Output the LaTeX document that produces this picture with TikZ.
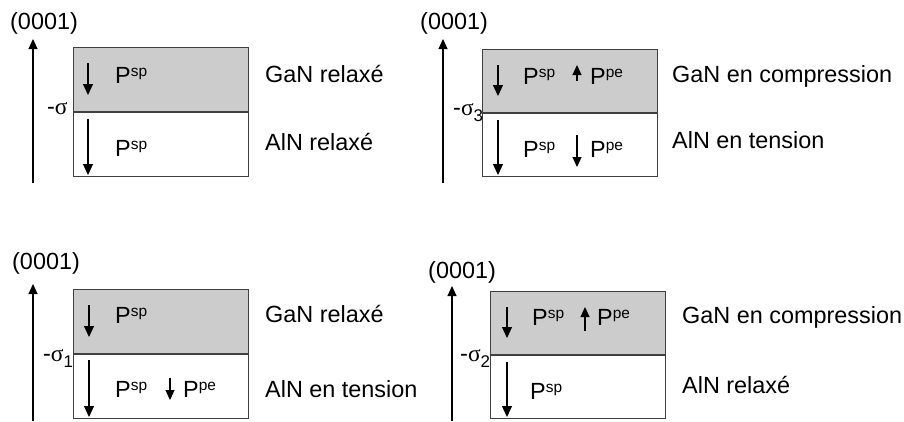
\documentclass[tikz,border=0pt]{standalone}
\usepackage{fontspec}
\setmainfont{Liberation Sans}
\newfontfamily\sigfont{Liberation Serif}
\usetikzlibrary{arrows.meta}
\newcommand\Pol[1]{P\raisebox{7bp}{\fontsize{15.5}{16}\selectfont #1}}
\newcommand\msig[1]{-{\sigfont σ}\raisebox{-6bp}{\fontsize{17}{17}\selectfont #1}}
\begin{document}
\begin{tikzpicture}[x=1bp,y=-1bp,
  every node/.style={font=\fontsize{23.5}{25}\selectfont},
  gan/.style={draw=black!75, line width=0.9pt, fill=gray!40, inner sep=0pt, anchor=north west, minimum width=175bp},
  aln/.style={draw=black!75, line width=0.9pt, fill=white, inner sep=0pt, anchor=north west, minimum width=175bp},
  txt/.style={anchor=base west, inner sep=0pt},
  axis/.style={line width=1.1pt, -{Triangle[length=10bp,width=9bp]}},
  pol/.style={line width=1.1pt, -{Triangle[length=11bp,width=10bp]}},
  pe/.style={line width=1.1pt, -{Triangle[length=10bp,width=9bp]}}]
\useasboundingbox (0,0) rectangle (904,421);

% ---------- Panel 1 (top left)
\node[txt] (d1) at (10,29) {(0001)};
\coordinate (a1b) at (33,183); \coordinate (a1t) at (33,39);
\draw[axis] (a1b) -- (a1t);
\node[gan, minimum height=64bp] (g1) at (73,47) {};
\node[aln, minimum height=64bp] (l1) at (g1.south west) {};
\coordinate (p1a) at (88,63); \coordinate (p1b) at (88,95);
\draw[pol] (p1a) -- (p1b);
\coordinate (p1c) at (88,119); \coordinate (p1d) at (88,175);
\draw[pol] (p1c) -- (p1d);
\node[txt] (s1a) at (115,83) {\Pol{sp}};
\node[txt] (s1b) at (115,156) {\Pol{sp}};
\node[txt] (m1) at (47,114) {\msig{}};
\node[txt] (t1a) at (265,82) {GaN relaxé};
\node[txt] (t1b) at (265,150) {AlN relaxé};

% ---------- Panel 2 (top right)
\node[txt] (d2) at (420,29) {(0001)};
\coordinate (a2b) at (443,183); \coordinate (a2t) at (443,39);
\draw[axis] (a2b) -- (a2t);
\node[gan, minimum height=63bp] (g2) at (482,49) {};
\node[aln, minimum height=63bp] (l2) at (g2.south west) {};
\coordinate (p2a) at (498,65); \coordinate (p2b) at (498,96);
\draw[pol] (p2a) -- (p2b);
\coordinate (p2c) at (498,120); \coordinate (p2d) at (498,175);
\draw[pol] (p2c) -- (p2d);
\coordinate (e2a) at (577,81); \coordinate (e2b) at (577,65);
\draw[pe] (e2a) -- (e2b);
\coordinate (e2c) at (577,135); \coordinate (e2d) at (577,167);
\draw[pe] (e2c) -- (e2d);
\node[txt] (s2a) at (523,84) {\Pol{sp}};
\node[txt] (q2a) at (590,84) {\Pol{pe}};
\node[txt] (s2b) at (523,157) {\Pol{sp}};
\node[txt] (q2b) at (590,157) {\Pol{pe}};
\node[txt] (m2) at (453,115) {\msig{3}};
\node[txt] (t2a) at (672,82) {GaN en compression};
\node[txt] (t2b) at (672,148) {AlN en tension};

% ---------- Panel 3 (bottom left)
\node[txt] (d3) at (12,269) {(0001)};
\coordinate (a3b) at (33,421); \coordinate (a3t) at (33,284);
\draw[axis] (a3b) -- (a3t);
\node[gan, minimum height=64bp] (g3) at (73,289) {};
\node[aln, minimum height=64bp] (l3) at (g3.south west) {};
\coordinate (p3a) at (89,305); \coordinate (p3b) at (89,337);
\draw[pol] (p3a) -- (p3b);
\coordinate (p3c) at (89,360); \coordinate (p3d) at (89,417);
\draw[pol] (p3c) -- (p3d);
\coordinate (e3c) at (170,378); \coordinate (e3d) at (170,400);
\draw[pe] (e3c) -- (e3d);
\node[txt] (s3a) at (115,323) {\Pol{sp}};
\node[txt] (s3b) at (115,397) {\Pol{sp}};
\node[txt] (q3b) at (183,397) {\Pol{pe}};
\node[txt] (m3) at (43,361) {\msig{1}};
\node[txt] (t3a) at (265,322) {GaN relaxé};
\node[txt] (t3b) at (265,397) {AlN en tension};

% ---------- Panel 4 (bottom right)
\node[txt] (d4) at (428,278) {(0001)};
\coordinate (a4b) at (452,421); \coordinate (a4t) at (452,286);
\draw[axis] (a4b) -- (a4t);
\node[gan, minimum height=63bp] (g4) at (490,291) {};
\node[aln, minimum height=63bp] (l4) at (g4.south west) {};
\coordinate (p4a) at (507,307); \coordinate (p4b) at (507,338);
\draw[pol] (p4a) -- (p4b);
\coordinate (p4c) at (507,362); \coordinate (p4d) at (507,417);
\draw[pol] (p4c) -- (p4d);
\coordinate (e4a) at (585,331); \coordinate (e4b) at (585,307);
\draw[pe] (e4a) -- (e4b);
\node[txt] (s4a) at (532,325) {\Pol{sp}};
\node[txt] (q4a) at (597,325) {\Pol{pe}};
\node[txt] (s4b) at (530,399) {\Pol{sp}};
\node[txt] (m4) at (460,361) {\msig{2}};
\node[txt] (t4a) at (682,323) {GaN en compression};
\node[txt] (t4b) at (682,393) {AlN relaxé};
\end{tikzpicture}
\end{document}
